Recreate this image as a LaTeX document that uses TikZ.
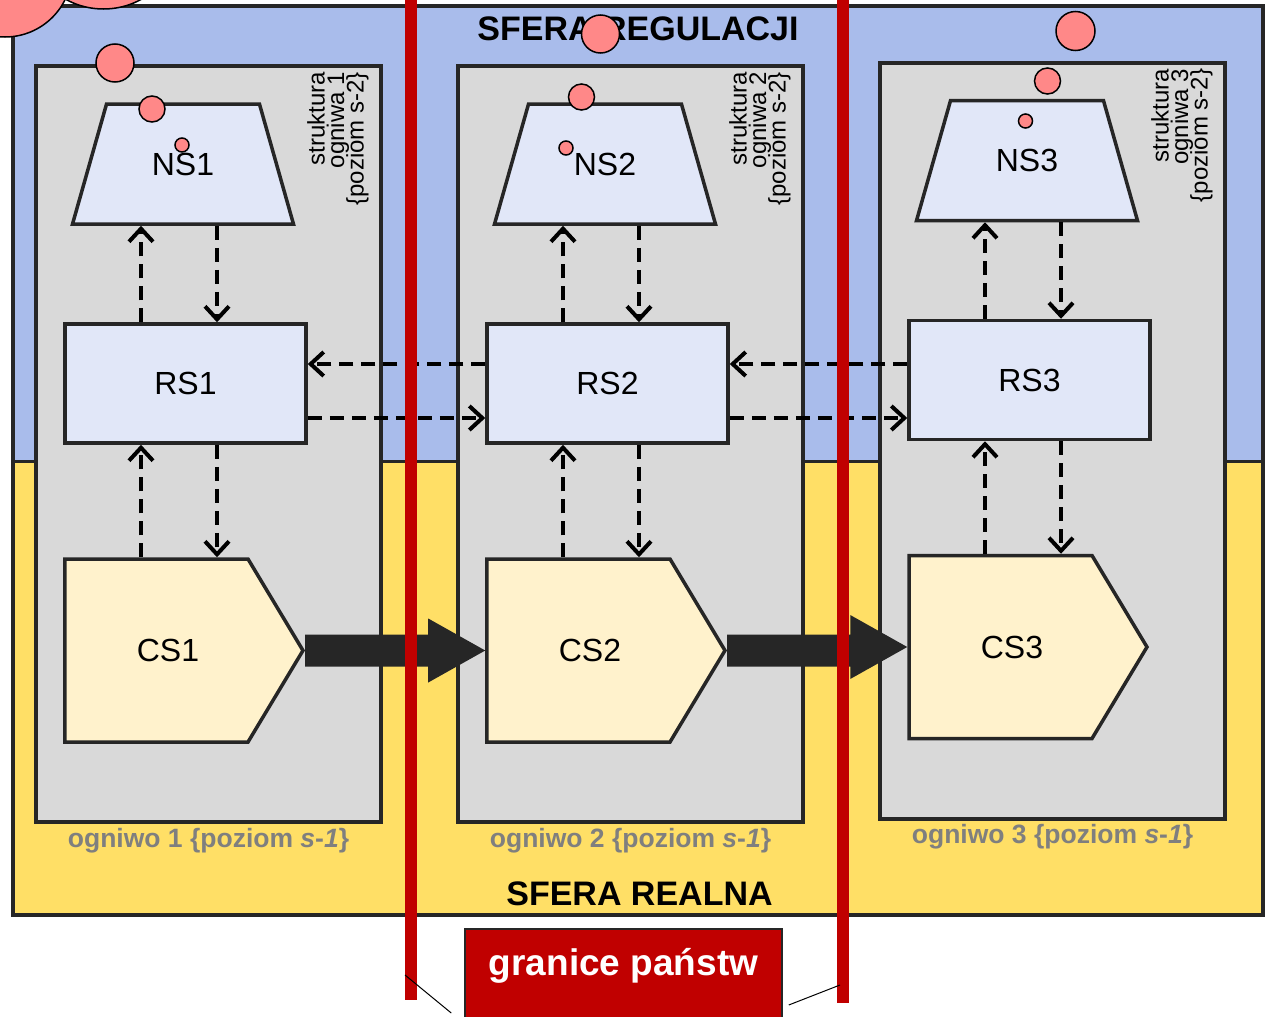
\documentclass[tikz,border=0pt]{standalone}
\usepackage{fontspec}
\setmainfont{Liberation Sans}
\usetikzlibrary{shapes.geometric,shapes.symbols,arrows.meta}

\definecolor{niebieski}{HTML}{A9BCEB}
\definecolor{zolty}{HTML}{FFDF66}
\definecolor{szary}{HTML}{D9D9D9}
\definecolor{lawenda}{HTML}{E1E7F8}
\definecolor{krem}{HTML}{FFF2CC}
\definecolor{ciemny}{HTML}{262626}
\definecolor{czerwony}{HTML}{C00000}
\definecolor{rozowy}{HTML}{FF8888}
\definecolor{szarytekst}{HTML}{7F7F7F}

\begin{document}
\begin{tikzpicture}[x=1pt,y=-1pt,
    obrys/.style={draw=ciemny, line width=3.5pt},
    ogniwo/.style={draw=ciemny, line width=4pt, fill=szary, minimum width=345pt, minimum height=756pt, inner sep=0pt},
    ns/.style={obrys, fill=lawenda, trapezium, trapezium left angle=62.4, trapezium right angle=62.4, trapezium stretches=true, minimum width=222pt, minimum height=120pt, font=\fontsize{32}{38}\selectfont},
    rs/.style={obrys, fill=lawenda, minimum width=241pt, minimum height=119pt, font=\fontsize{32}{38}\selectfont},
    cs/.style={obrys, fill=krem, signal, signal to=east, signal pointer angle=118, minimum width=238pt, minimum height=183pt, font=\fontsize{32}{38}\selectfont},
    przerywana/.style={line width=4pt, dash pattern=on 14pt off 8pt, -{Straight Barb[length=13pt,width=24pt,line width=4pt]}},
    blok/.style={fill=ciemny},
    opis/.style={rotate=90, anchor=north east, align=right, inner sep=0pt, font={\fontsize{24}{19.5}\selectfont\lineskiplimit=-20pt}},
    podpis/.style={anchor=base, inner sep=0pt, text=szarytekst, font=\bfseries\fontsize{26.5}{30}\selectfont},
    sfera/.style={anchor=base, inner sep=0pt, font=\bfseries\fontsize{34}{40}\selectfont},
    granica/.style={draw=czerwony, line width=12pt},
    kropka/.style={draw=black, line width=1.5pt, fill=rozowy},
  ]
\useasboundingbox (0,0) rectangle (1266,1017);

% tlo: sfera regulacji i sfera realna
\draw[fill=niebieski, draw=ciemny, line width=3.5pt] (13,6) rectangle (1263,461.5);
\draw[fill=zolty, draw=ciemny, line width=3.5pt] (13,461.5) rectangle (1263,915);
\node[sfera] (regulacja) at (638,40) {SFERA REGULACJI};
\node[sfera] (realna) at (639.5,905) {SFERA REALNA};

% trzy ogniwa
\foreach \i/\dx/\dy in {1/0/0, 2/422/0, 3/844/-3.5} {
  \begin{scope}[shift={(\dx,\dy)}]
    \node[ogniwo] (OG\i) at (208.5,444) {};
    \node[opis] at ([xshift=-76pt,yshift=-8pt]OG\i.north east) {struktura\\ogniwa \i\\\{poziom s-2\}};
    \node[podpis] at ([yshift=-23pt]OG\i.south) {ogniwo \i\ \{poziom \textit{s}-\textit{1}\}};
    \node[ns] (NS\i) at (183,164) {NS\i};
    \node[rs] (RS\i) at (185.5,383.5) {RS\i};
    \node[cs] (CS\i) at (156.5,650.5) {\hspace*{23pt}CS\i};
    \draw[przerywana] ([xshift=-42pt]NS\i.south |- RS\i.north) -- ([xshift=-42pt]NS\i.south);
    \draw[przerywana] ([xshift=34pt]NS\i.south) -- ([xshift=34pt]NS\i.south |- RS\i.north);
    \draw[przerywana] ([xshift=-44.5pt]RS\i.south |- CS\i.north) -- ([xshift=-44.5pt]RS\i.south);
    \draw[przerywana] ([xshift=31.5pt]RS\i.south) -- ([xshift=31.5pt]RS\i.south |- CS\i.north);
  \end{scope}
}

% powiazania miedzy ogniwami
\foreach \i/\j in {1/2, 2/3} {
  \draw[przerywana] ([yshift=19.5pt]RS\i.east -| RS\j.west) -- ([yshift=19.5pt]RS\i.east);
  \draw[przerywana] ([yshift=-34.5pt]RS\i.east) -- ([yshift=-34.5pt]RS\i.east -| RS\j.west);
  \fill[blok] ([yshift=16pt]CS\i.east) -| ([xshift=-57pt,yshift=32pt]CS\j.west) -- (CS\j.west)
    -- ([xshift=-57pt,yshift=-32pt]CS\j.west) |- ([yshift=-16pt]CS\i.east) -- cycle;
}

% granice panstw
\draw[granica] (411,-5) -- (411,1000);
\draw[granica] (843,-5) -- (843,1003);
\node[fill=czerwony, draw=ciemny, line width=1.5pt, anchor=north, text=white,
  font=\bfseries\fontsize{37}{44}\selectfont, minimum width=317pt,
  text height=27pt, text depth=60pt, inner ysep=20pt] (gran) at (623.5,928) {granice państw};
\draw[line width=1pt] ([shift={(-13,85)}]gran.north west) -- (405,975);
\draw[line width=1pt] ([shift={(6,77)}]gran.north east) -- (840,985);

% kropki
\draw[kropka] (103.5,-69.5) circle[radius=78.5pt];
\draw[kropka] (5,-30) circle[radius=67pt];
\foreach \x/\y/\r in {115/63/19, 152/109/13, 182/145/7, 600.5/34/19, 581.5/97/13, 566/148/7,
  1075.5/31/19.5, 1047.5/81/13, 1025.5/121/7}
  \draw[kropka] (\x,\y) circle[radius=\r pt];
\end{tikzpicture}
\end{document}
